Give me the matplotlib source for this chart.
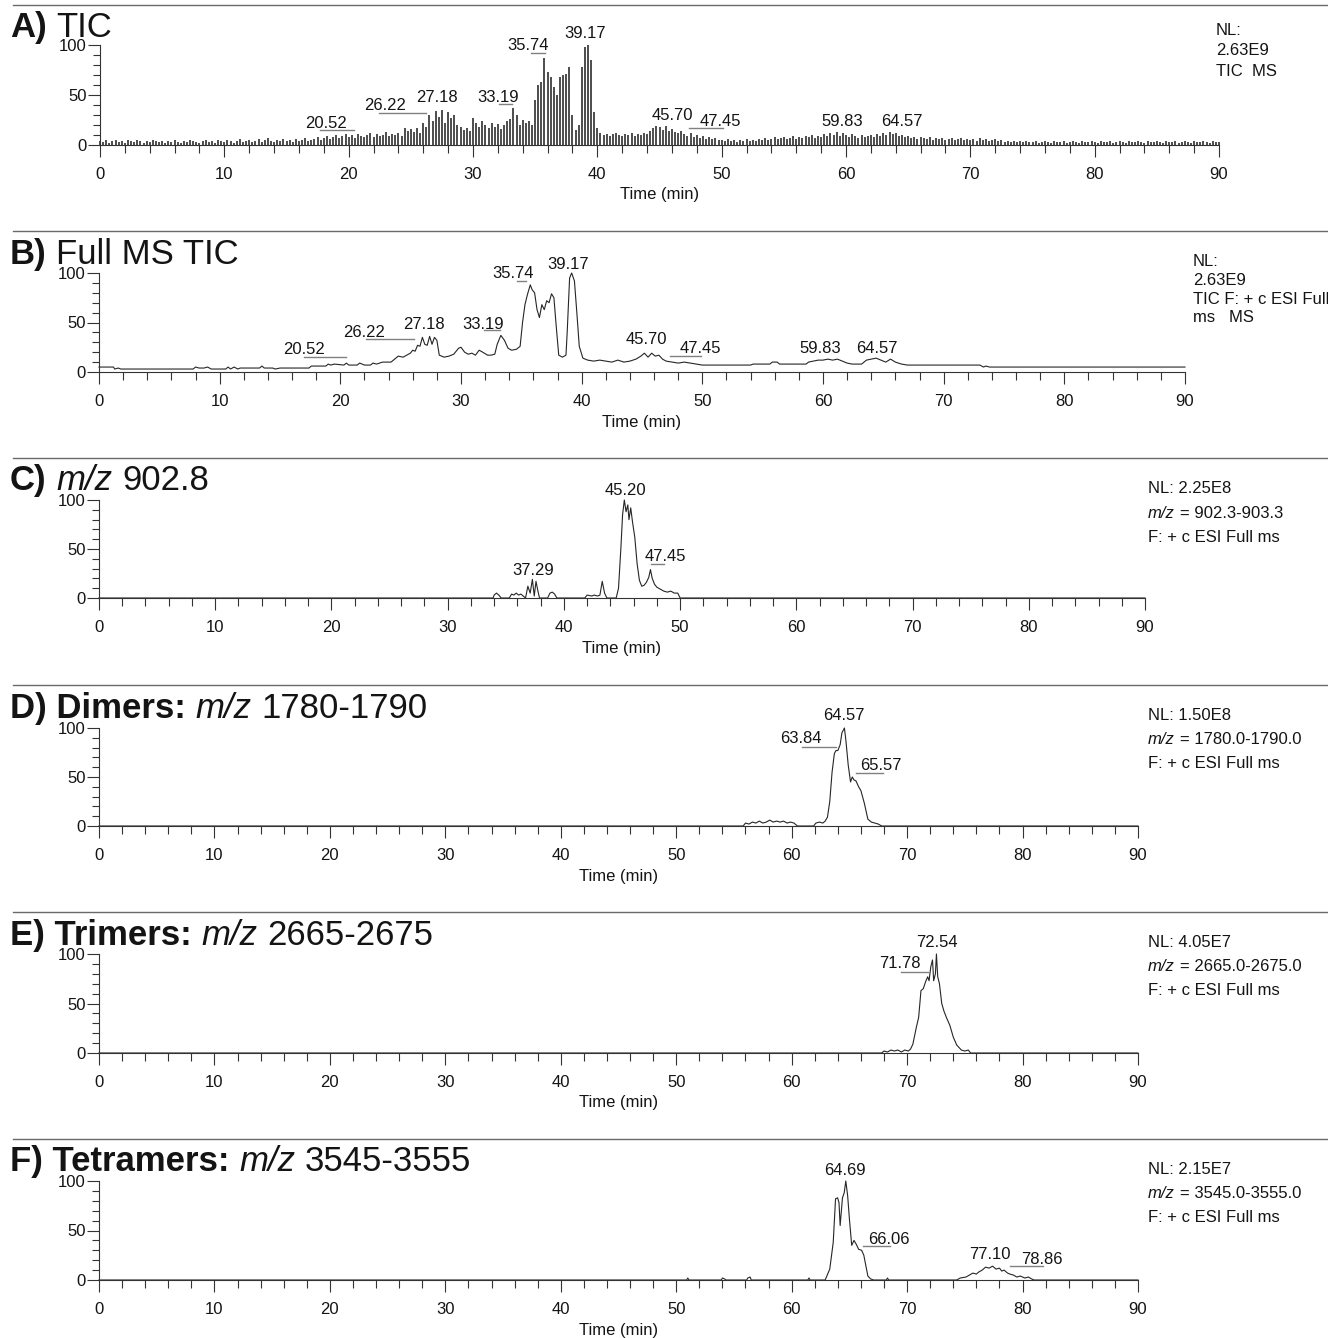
import numpy as np
import matplotlib
matplotlib.use("Agg")
import matplotlib.pyplot as plt
from matplotlib.text import Annotation
from matplotlib.lines import Line2D

plt.rcParams['font.family'] = ['Liberation Sans', 'DejaVu Sans']

W, H = 1328, 1338

# ------------------------------------------------------------------ data
# A) TIC: spike heights (relative abundance) sampled every 0.25 min
A_step = 0.25
A_heights = [
    4, 3, 5, 2, 4, 5, 3, 4, 2, 5, 4, 3, 5, 4, 2, 4, 3, 5, 4, 3,          # 0-5
    4, 2, 4, 3, 5, 3, 2, 4, 3, 5, 4, 3, 2, 4, 5, 3, 4, 2, 5, 4,          # 5-10
    3, 5, 4, 2, 4, 6, 3, 4, 5, 3, 4, 6, 3, 5, 7, 4, 3, 5, 4, 6,          # 10-15
    4, 5, 3, 6, 4, 5, 7, 4, 5, 6, 8, 5, 7, 9, 6, 8, 10, 7, 9, 11,        # 15-20
    8, 10, 7, 11, 9, 8, 10, 12, 8, 11, 9, 10, 13, 9, 11, 10, 12, 9, 17, 14,   # 20-25
    16, 13, 17, 12, 22, 18, 30, 24, 34, 28, 35, 22, 33, 27, 30, 20, 18, 15, 17, 14,  # 25-30
    27, 22, 18, 24, 20, 17, 22, 18, 21, 16, 20, 24, 26, 37, 30, 20, 25, 22, 24, 20,  # 30-35
    45, 60, 63, 87, 73, 68, 58, 50, 68, 70, 71, 78, 30, 15, 20, 78, 98, 100, 85, 33,  # 35-40
    17, 12, 10, 11, 9, 11, 12, 10, 9, 11, 10, 12, 9, 11, 10, 12, 11, 14, 17, 19,  # 40-45
    18, 15, 19, 14, 16, 13, 12, 14, 11, 9, 12, 8, 10, 7, 9, 6, 8, 6, 7, 5,  # 45-50
    5, 4, 6, 4, 5, 3, 5, 4, 6, 4, 5, 4, 6, 5, 7, 5, 6, 8, 6, 7,          # 50-55
    8, 6, 7, 9, 6, 8, 7, 9, 8, 10, 7, 9, 8, 11, 9, 12, 10, 13, 9, 12,    # 55-60
    10, 8, 11, 9, 7, 10, 8, 9, 10, 8, 11, 9, 12, 10, 13, 11, 12, 9, 10, 8,  # 60-65
    9, 7, 8, 6, 8, 7, 6, 8, 5, 7, 6, 7, 5, 6, 7, 5, 6, 7, 5, 6,          # 65-70
    5, 6, 4, 7, 5, 6, 4, 5, 6, 4, 5, 3, 4, 3, 4, 3, 4, 3, 4, 3,          # 70-75
    3, 4, 2, 3, 4, 3, 2, 4, 3, 3, 4, 2, 3, 4, 3, 2, 4, 3, 3, 4,          # 75-80
    3, 2, 4, 3, 3, 4, 2, 3, 4, 3, 2, 4, 3, 3, 4, 3, 2, 4, 3, 3,          # 80-85
    4, 3, 2, 4, 3, 3, 4, 2, 3, 4, 3, 2, 4, 3, 3, 4, 3, 2, 4, 3,          # 85-90
    3,
]

# B) Full MS TIC
B_time = [
    0.0, 1.2, 1.3, 1.6, 1.8,
    7.8, 8.0, 8.3, 8.7, 9.0, 9.3,
    10.5, 10.7, 10.9, 11.2, 11.5, 11.7,
    13.3, 13.5, 13.7, 14.4, 14.6, 15.0,
    17.4, 17.6, 18.8, 19.0, 19.2, 19.5,
    20.3, 20.5, 20.7, 21.4, 21.6, 22.0,
    22.5, 22.7, 23.0, 23.5, 24.2,
    24.6, 24.8, 25.2, 25.5, 25.8, 26.0, 26.2, 26.4, 26.6, 26.8,
    27.0, 27.2, 27.4, 27.6, 27.8, 28.0, 28.2, 28.6, 29.0, 29.4,
    29.8, 30.0, 30.3, 30.6, 30.9, 31.2, 31.5, 31.8, 32.2, 32.5,
    32.8, 33.0, 33.3, 33.6, 33.9, 34.2, 34.6, 34.9,
    35.1, 35.3, 35.5, 35.74, 35.9, 36.1, 36.3, 36.5, 36.7, 36.9,
    37.1, 37.3, 37.5, 37.7, 37.9, 38.1, 38.4, 38.7, 38.8, 39.0,
    39.17, 39.4, 39.6, 39.8, 40.1, 40.5, 41.0, 41.5, 42.0, 42.5,
    43.0, 43.5, 44.0, 44.5, 44.9, 45.2, 45.5, 45.8, 46.1, 46.4,
    46.7, 47.0, 47.5, 48.0, 48.5, 49.0, 49.5, 50.0,
    54.0, 54.2, 55.6, 55.8, 56.2, 56.4, 58.6, 58.8,
    59.2, 59.6, 60.0, 60.4, 60.8, 61.2, 61.6, 62.0, 62.4,
    63.2, 63.6, 64.0, 64.4, 64.8, 65.2, 65.6, 66.0, 66.5, 67.0,
    73.0, 73.3, 73.5, 73.8, 90.0,
]
B_int = [
    5, 5, 3, 4, 3,
    3, 5, 4, 4, 5, 3,
    3, 5, 3, 5, 3, 4,
    4, 6, 4, 4, 3, 4,
    4, 6, 6, 8, 7, 8,
    7, 9, 7, 7, 9, 7,
    7, 9, 8, 10, 10,
    14, 16, 15, 17, 19, 22, 21, 27, 26, 35,
    28, 27, 36, 28, 35, 32, 17, 15, 16, 18,
    24, 25, 20, 18, 19, 17, 22, 20, 17, 17,
    18, 28, 37, 32, 24, 22, 23, 26,
    50, 68, 78, 88, 83, 80, 63, 55, 68, 63,
    72, 70, 79, 75, 45, 17, 15, 17, 40, 95,
    100, 92, 60, 26, 14, 12, 11, 12, 11, 10,
    12, 10, 11, 13, 16, 19, 15, 19, 16, 17,
    13, 11, 10, 9, 10, 9, 8, 7,
    7, 8, 8, 10, 10, 8, 8, 10,
    11, 12, 12, 13, 12, 13, 11, 9, 8,
    8, 12, 13, 14, 12, 10, 13, 10, 8, 7,
    7, 5, 6, 5, 5,
]

# C) m/z 902.8
C_time = [
    0.0, 33.9, 34.0, 34.2, 34.4, 34.6, 35.3, 35.5, 35.7, 35.9,
    36.1, 36.3, 36.7, 36.9, 37.1, 37.29, 37.45, 37.6, 37.75, 37.9,
    38.6, 38.8, 39.0, 39.2, 39.4, 41.8, 42.0, 42.4, 42.6, 42.9,
    43.1, 43.3, 43.5, 43.7, 44.5, 44.7, 44.9, 45.05, 45.2, 45.35,
    45.5, 45.6, 45.75, 45.9, 46.1, 46.3, 46.5, 46.7, 46.9, 47.1,
    47.3, 47.45, 47.6, 47.8, 48.0, 48.3, 48.6, 48.9, 49.2, 49.5,
    49.8, 50.0, 90.0,
]
C_int = [
    0, 0, 3, 5, 3, 0, 0, 4, 3, 5,
    3, 4, 0, 12, 5, 19, 2, 17, 8, 0,
    0, 5, 6, 4, 0, 0, 3, 2, 3, 2,
    3, 17, 5, 0, 0, 10, 50, 85, 100, 88,
    95, 80, 92, 78, 62, 35, 18, 12, 13, 16,
    21, 29, 20, 14, 11, 9, 7, 6, 7, 5,
    5, 0, 0,
]

# D) Dimers m/z 1780-1790
D_time = [
    0.0, 55.8, 56.0, 56.3, 56.6, 56.9, 57.2, 57.5, 57.8, 58.1,
    58.4, 58.7, 59.0, 59.3, 59.6, 59.9, 60.2, 60.5, 61.9, 62.1,
    62.4, 62.7, 62.9, 63.1, 63.3, 63.5, 63.7, 63.84, 64.0, 64.2,
    64.35, 64.57, 64.7, 64.9, 65.1, 65.25, 65.4, 65.57, 65.8, 66.0,
    66.3, 66.6, 66.9, 67.2, 67.5, 67.8, 90.0,
]
D_int = [
    0, 0, 3, 2, 4, 3, 5, 3, 4, 6,
    4, 5, 4, 5, 3, 4, 3, 0, 0, 3,
    4, 3, 5, 9, 25, 55, 74, 77, 77, 83,
    95, 100, 87, 62, 45, 50, 47, 46, 40, 36,
    23, 7, 4, 3, 2, 0, 0,
]

# E) Trimers m/z 2665-2675
E_time = [
    0.0, 67.8, 68.0, 68.3, 68.6, 68.9, 69.2, 69.5, 69.8, 70.1,
    70.3, 70.5, 70.8, 71.0, 71.2, 71.4, 71.6, 71.78, 71.9, 72.05,
    72.2, 72.3, 72.45, 72.54, 72.65, 72.8, 73.0, 73.2, 73.4, 73.7,
    74.0, 74.3, 74.7, 75.0, 75.3, 75.5, 90.0,
]
E_int = [
    0, 0, 2, 1, 3, 2, 3, 1, 3, 2,
    4, 9, 26, 36, 63, 65, 72, 77, 73, 87,
    94, 73, 80, 100, 77, 70, 50, 42, 36, 28,
    16, 8, 3, 2, 3, 0, 0,
]

# F) Tetramers m/z 3545-3555
F_time = [
    0.0, 50.9, 51.0, 51.1, 53.9, 54.0, 54.2, 54.3, 56.1, 56.2,
    56.4, 56.5, 61.4, 61.5, 61.6, 62.9, 63.3, 63.6, 63.8, 63.98,
    64.1, 64.2, 64.4, 64.55, 64.69, 64.85, 65.0, 65.2, 65.4, 65.6,
    65.8, 66.06, 66.25, 66.45, 66.6, 66.85, 67.1, 68.2, 68.3, 68.4,
    74.3, 74.6, 75.1, 75.4, 75.7, 76.0, 76.2, 76.5, 76.8, 77.1,
    77.4, 77.7, 78.0, 78.2, 78.4, 78.7, 78.9, 79.2, 79.5, 79.8,
    80.2, 80.5, 80.8, 81.0, 90.0,
]
F_int = [
    0, 0, 2, 0, 0, 2, 1, 0, 0, 2,
    3, 0, 0, 2, 0, 0, 11, 38, 82, 83,
    78, 55, 83, 88, 100, 85, 62, 35, 40, 36,
    31, 30, 25, 13, 4, 1, 0, 0, 2, 0,
    0, 2, 3, 5, 7, 6, 8, 10, 13, 12,
    14, 11, 12, 9, 10, 7, 6, 5, 3, 4,
    2, 3, 1, 0, 0,
]

x_ticks = [0, 10, 20, 30, 40, 50, 60, 70, 80, 90]
y_ticks = [0, 50, 100]
x_label = "Time (min)"

titles = [
    [("A)", "b"), ("TIC", "n")],
    [("B)", "b"), ("Full MS TIC", "n")],
    [("C)", "b"), ("m/z", "i"), ("902.8", "n")],
    [("D) Dimers:", "b"), ("m/z", "i"), ("1780-1790", "n")],
    [("E) Trimers:", "b"), ("m/z", "i"), ("2665-2675", "n")],
    [("F) Tetramers:", "b"), ("m/z", "i"), ("3545-3555", "n")],
]

nl_texts = [
    [[("NL:", "n")], [("2.63E9", "n")], [("TIC  MS", "n")]],
    [[("NL:", "n")], [("2.63E9", "n")], [("TIC F: + c ESI Full", "n")], [("ms   MS", "n")]],
    [[("NL: 2.25E8", "n")], [("m/z", "i"), ("= 902.3-903.3", "n")], [("F: + c ESI Full ms", "n")]],
    [[("NL: 1.50E8", "n")], [("m/z", "i"), ("= 1780.0-1790.0", "n")], [("F: + c ESI Full ms", "n")]],
    [[("NL: 4.05E7", "n")], [("m/z", "i"), ("= 2665.0-2675.0", "n")], [("F: + c ESI Full ms", "n")]],
    [[("NL: 2.15E7", "n")], [("m/z", "i"), ("= 3545.0-3555.0", "n")], [("F: + c ESI Full ms", "n")]],
]

peak_labels = [
    ["20.52", "26.22", "27.18", "33.19", "35.74", "39.17", "45.70", "47.45", "59.83", "64.57"],
    ["20.52", "26.22", "27.18", "33.19", "35.74", "39.17", "45.70", "47.45", "59.83", "64.57"],
    ["37.29", "45.20", "47.45"],
    ["64.57", "63.84", "65.57"],
    ["72.54", "71.78"],
    ["64.69", "66.06", "77.10", "78.86"],
]

# ------------------------------------------------------------------ layout (pixels / data positions of labels)
layout = [
    dict(x0=100, x90=1219, y100=45, y0=145, sep=5, tb=37, nlx=1216, nly=[35, 55, 76]),
    dict(x0=99, x90=1185, y100=273, y0=372, sep=231, tb=264, nlx=1193, nly=[266, 285, 304, 322]),
    dict(x0=99, x90=1145, y100=500, y0=598, sep=458, tb=490, nlx=1148, nly=[493, 518, 542]),
    dict(x0=99, x90=1138, y100=728, y0=826, sep=685, tb=718, nlx=1148, nly=[720, 744, 768]),
    dict(x0=99, x90=1138, y100=954, y0=1053, sep=912, tb=945, nlx=1148, nly=[947, 971, 995]),
    dict(x0=99, x90=1138, y100=1181, y0=1280, sep=1139, tb=1171, nlx=1148, nly=[1174, 1198, 1222]),
]

label_pos = [
    [(18.2, 22, (17.7, 20.45, 15)), (22.9, 39, (22.4, 26.2, 32)), (27.1, 47, None),
     (32.0, 48, (32.1, 33.1, 41)), (34.4, 99, (34.7, 35.8, 92)), (39.0, 112, None),
     (46.0, 30, None), (49.9, 23, (47.4, 50.1, 17)), (59.7, 23, None), (64.5, 23, None)],
    [(17.0, 23, (17.0, 20.5, 15)), (22.0, 40, (22.1, 26.1, 33)), (26.9, 48, None),
     (31.8, 48, (31.9, 33.2, 42)), (34.3, 100, (34.6, 35.4, 92)), (38.9, 109, None),
     (45.4, 33, None), (49.8, 24, (47.3, 49.9, 16)), (59.8, 24, None), (64.5, 24, None)],
    [(37.4, 28.5, None), (45.3, 110, None), (48.7, 42, (47.5, 48.6, 35))],
    [(64.5, 113, None), (60.8, 89, (60.9, 63.8, 81)), (67.7, 61.5, (65.6, 67.9, 54))],
    [(72.6, 112, None), (69.4, 90, (69.5, 71.8, 82))],
    [(64.6, 111, None), (68.4, 41, (66.2, 68.5, 34)), (77.2, 26, None), (81.7, 21, (78.9, 81.8, 14))],
]

TXT = "#141414"
LINE = "#262626"
AX = "#333333"
LEAD = "#808080"

fig = plt.figure(figsize=(W / 100, H / 100), dpi=100)


def rich_line(px, py, pieces, size):
    prev = None
    for text, st in pieces:
        kw = dict(fontsize=size, color=TXT)
        if st == "b":
            kw["fontweight"] = "bold"
        if st == "i":
            kw["fontstyle"] = "italic"
        if prev is None:
            prev = fig.text(px / W, 1 - py / H, text, ha="left", va="baseline", **kw)
        else:
            ann = Annotation(text, xy=(1, 0), xycoords=prev, xytext=(0.28 * size, 0),
                             textcoords="offset points", ha="left", va="bottom", **kw)
            fig.add_artist(ann)
            prev = ann


def style_axes(ax, L):
    ax.set_xlim(0, 90)
    ax.set_ylim(0, 100)
    ax.patch.set_alpha(0)
    for s in ["top", "right"]:
        ax.spines[s].set_visible(False)
    for s in ["left", "bottom"]:
        ax.spines[s].set_color(AX)
        ax.spines[s].set_linewidth(0.8)
    ax.set_xticks(x_ticks)
    ax.set_xticks(np.arange(0, 91, 2), minor=True)
    ax.set_yticks(y_ticks)
    ax.set_yticks(np.arange(0, 101, 10), minor=True)
    ax.tick_params(axis="x", which="major", direction="out", length=8.6, width=0.8,
                   color=AX, pad=7, labelsize=12, labelcolor=TXT)
    ax.tick_params(axis="x", which="minor", direction="out", length=5.8, width=0.8, color=AX)
    ax.tick_params(axis="y", which="major", direction="out", length=8.6, width=0.8,
                   color=AX, pad=1, labelsize=12, labelcolor=TXT)
    ax.tick_params(axis="y", which="minor", direction="out", length=5, width=0.8, color=AX)
    ax.set_xlabel(x_label, fontsize=12, color=TXT)
    ax.xaxis.set_label_coords(0.5, -50.0 / (L["y0"] - L["y100"]))
    ax.xaxis.label.set_verticalalignment("center")


traces = [None, (B_time, B_int), (C_time, C_int), (D_time, D_int), (E_time, E_int), (F_time, F_int)]

for i, L in enumerate(layout):
    # separator line
    fig.add_artist(Line2D([13 / W, 1.0], [1 - L["sep"] / H] * 2, transform=fig.transFigure,
                          color="#6a6a6a", lw=1.0))
    ax = fig.add_axes([L["x0"] / W, 1 - L["y0"] / H, (L["x90"] - L["x0"]) / W,
                       (L["y0"] - L["y100"]) / H])
    style_axes(ax, L)
    if i == 0:
        A_time = np.arange(len(A_heights)) * A_step
        ax.vlines(A_time, 0, A_heights, colors=LINE, linewidth=1.15, clip_on=False)
    else:
        t, v = traces[i]
        ax.plot(t, v, color=LINE, lw=0.8, clip_on=False)
    for lab, (tx, ty, ul) in zip(peak_labels[i], label_pos[i]):
        ax.text(tx, ty, lab, ha="center", va="center", fontsize=12, color=TXT, clip_on=False)
        if ul is not None:
            ax.plot([ul[0], ul[1]], [ul[2], ul[2]], color=LEAD, lw=1.0, clip_on=False)
    rich_line(10, L["tb"], titles[i], 25)
    for line, py in zip(nl_texts[i], L["nly"]):
        rich_line(L["nlx"], py, line, 12)

fig.savefig("out.png", dpi=100)
